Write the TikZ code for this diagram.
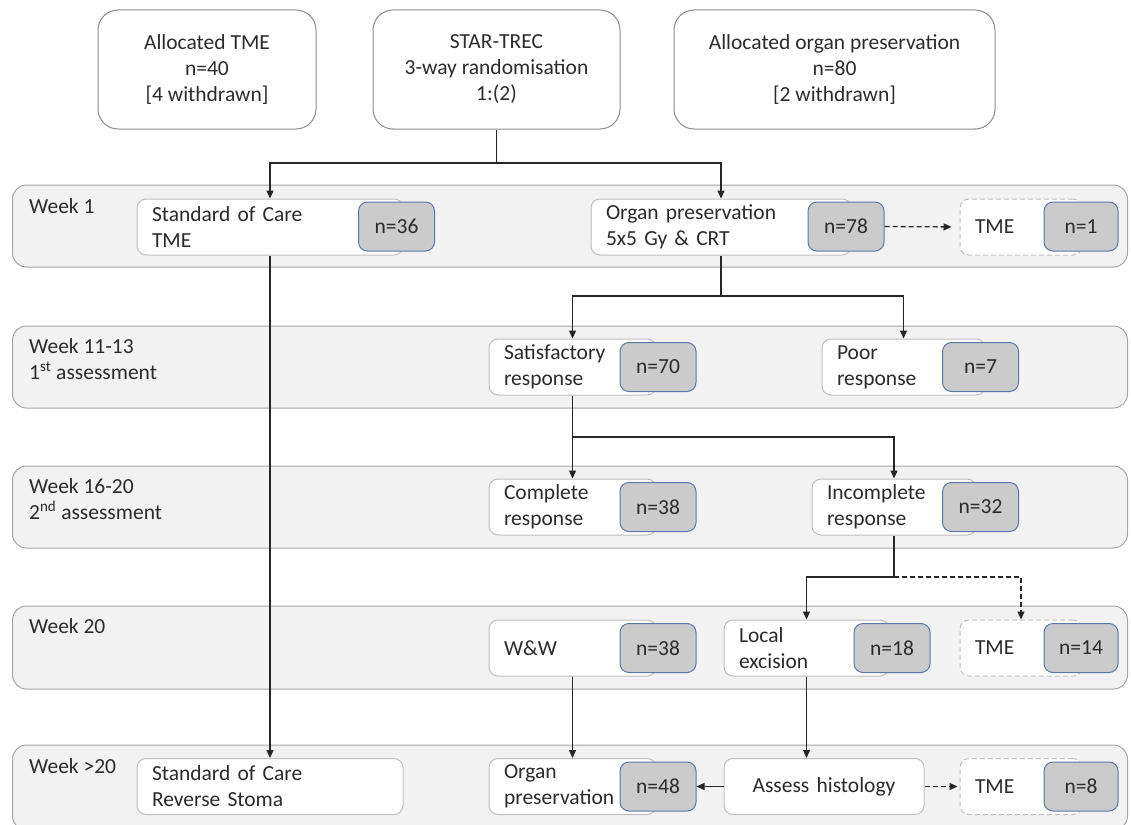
\documentclass[tikz,border=0pt]{standalone}
\usepackage{fontspec}
\setmainfont{Carlito}
\usetikzlibrary{arrows.meta}

\definecolor{bandfill}{HTML}{F2F2F2}
\definecolor{bandline}{HTML}{A6A6A6}
\definecolor{boxline}{HTML}{BFBFBF}
\definecolor{topline}{HTML}{8C8C8C}
\definecolor{countfill}{HTML}{CBCBCB}
\definecolor{countline}{HTML}{5B77A6}
\definecolor{connline}{HTML}{262626}
\definecolor{textgray}{HTML}{2B2B2B}

\tikzset{
  every node/.style={font=\fontsize{21.5}{26}\selectfont, text=textgray},
  topbox/.style={draw=topline, line width=1pt, rounded corners=20pt, align=center, minimum height=119pt},
  band/.style={draw=bandline, fill=bandfill, line width=1pt, rounded corners=14pt, minimum width=1115pt, minimum height=82pt},
  stepbox/.style={draw=boxline, fill=white, line width=1pt, rounded corners=9pt, minimum height=56pt, inner xsep=15pt, inner ysep=0pt, align=left},
  tmebox/.style={stepbox, dash pattern=on 5pt off 3pt},
  countbox/.style={draw=countline, fill=countfill, line width=1pt, rounded corners=9pt, minimum width=76pt, minimum height=49pt},
  weeklabel/.style={anchor=north west, inner sep=0pt, align=left},
  conn/.style={draw=connline, line width=1.3pt, -{Triangle[length=8pt,width=7pt]}},
  dashline/.style={dash pattern=on 5pt off 3pt},
}

\begin{document}
\begin{tikzpicture}[x=1pt, y=-1pt]
\useasboundingbox (0,0) rectangle (1131,824);

% Randomisation boxes
\node[topbox, minimum width=218pt] (alloctme) at (207,69.5) {Allocated TME\\n=40\\{[4 withdrawn]}};
\node[topbox, minimum width=247pt] (startrec) at (496.5,69.5) {STAR-TREC\\3-way randomisation\\1:(2)};
\node[topbox, minimum width=321pt] (allocop) at (834.5,69.5) {Allocated organ preservation\\n=80\\{[2 withdrawn]}};

% Time bands
\node[band] (week1) at (570,226) {};
\node[band] (week11) at (570,367) {};
\node[band] (week16) at (570,507) {};
\node[band, minimum height=83pt] (week20) at (570,647.5) {};
\node[band, minimum height=85pt] (week21) at (570,787.5) {};
\node[weeklabel] (lbl1) at (29,198) {Week 1};
\node[weeklabel] (lbl11) at (29,338) {Week 11-13\\1\textsuperscript{st} assessment};
\node[weeklabel] (lbl16) at (29,478) {Week 16-20\\2\textsuperscript{nd} assessment};
\node[weeklabel] (lbl20) at (29,618) {Week 20};
\node[weeklabel] (lbl21) at (29,758) {Week >20};

% Week 1
\node[stepbox, text width=236pt] (soc) at (270,227) {Standard of Care\\TME};
\node[stepbox, text width=230pt] (op) at (721,227) {Organ preservation\\5x5 Gy \& CRT};
\node[tmebox, text width=92pt] (tmeA) at (1021,227) {TME};
\node[countbox] (nA) at (396.5,226.5) {n=36};
\node[countbox] (nB) at (846,226.5) {n=78};
\node[countbox, minimum width=74pt] (nC) at (1081,226.5) {n=1};

% Week 11-13
\node[stepbox, text width=137pt] (sat) at (572.5,367) {Satisfactory\\response};
\node[stepbox, text width=133pt] (poor) at (903.5,367) {Poor\\response};
\node[countbox] (nD) at (658,367) {n=70};
\node[countbox] (nE) at (980.5,367) {n=7};

% Week 16-20
\node[stepbox, text width=137pt] (cr) at (572.5,507) {Complete\\response};
\node[stepbox, text width=134pt] (inc) at (894,507) {Incomplete\\response};
\node[countbox] (nF) at (658,507) {n=38};
\node[countbox] (nG) at (980.5,507) {n=32};

% Week 20
\node[stepbox, text width=137pt] (ww) at (572.5,648) {W\&W};
\node[stepbox, text width=135pt] (lex) at (806.5,648) {Local\\excision};
\node[tmebox, text width=92pt] (tmeB) at (1021,648) {TME};
\node[countbox] (nH) at (658,648) {n=38};
\node[countbox] (nI) at (892,648) {n=18};
\node[countbox, minimum width=74pt] (nJ) at (1081,648) {n=14};

% Week >20
\node[stepbox, text width=236pt] (socrs) at (270,786.5) {Standard of Care\\Reverse Stoma};
\node[stepbox, text width=137pt] (opres) at (572.5,786.5) {Organ\\preservation};
\node[stepbox, text width=170pt, align=center] (hist) at (824,786.5) {Assess histology};
\node[tmebox, text width=92pt] (tmeC) at (1021,786.5) {TME};
\node[countbox] (nK) at (658,786.5) {n=48};
\node[countbox, minimum width=74pt] (nL) at (1081,786.5) {n=8};

% Connectors
\coordinate (splitA) at (496.5,163);
\draw[conn] (startrec.south) -- (splitA) -| (soc.north);
\draw[conn] (splitA) -| (op.north);
\draw[conn] (soc.south) -- (socrs.north);
\coordinate (splitB) at (721,296);
\draw[conn] (op.south) -- (splitB) -| (sat.north);
\draw[conn] (splitB) -| (poor.north);
\coordinate (splitC) at (572.5,437);
\draw[conn] (sat.south) -- (splitC) -| (inc.north);
\draw[conn] (splitC) -- (cr.north);
\coordinate (splitD) at (894,577);
\draw[conn] (inc.south) -- (splitD) -| (lex.north);
\draw[conn, dashline] (splitD) -| (tmeB.north);
\draw[conn] (ww.south) -- (opres.north);
\draw[conn] (lex.south) -- (lex.south |- hist.north);
\draw[conn] (hist.west) -- (nK.east);
\draw[conn, dashline, shorten >=8pt] (nB.east) -- (tmeA.west);
\draw[conn, dashline, shorten >=2pt] (hist.east) -- (tmeC.west);
\end{tikzpicture}
\end{document}
